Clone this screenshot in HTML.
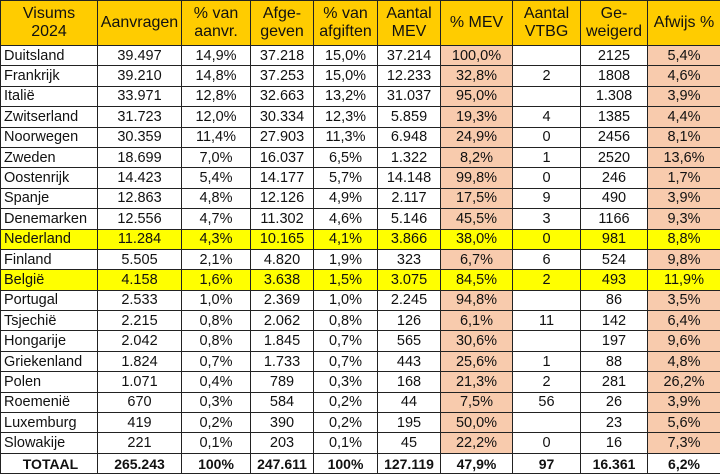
<!DOCTYPE html><html><head><meta charset="utf-8"><style>
body{margin:0;width:720px;height:474px;background:#fff;overflow:hidden}
table{border-collapse:collapse;table-layout:fixed;width:720px;font-family:"Liberation Sans",Arial,sans-serif;font-size:14.5px;color:#111}
td{border:1px solid #222;height:19.4px;padding:0;text-align:center;white-space:nowrap;overflow:hidden;line-height:18px}
td:first-child{text-align:left;padding-left:3px}
tr.h td{background:#FFCC00;height:44px;line-height:18px;font-size:16px;text-align:center;padding:0}
td.p{background:#F8CBAD}
tr.y td{background:#FFFF00}
tr.t td{font-weight:bold;text-align:center;font-size:14px}
</style></head><body><table>
<colgroup><col style="width:97px"><col style="width:84px"><col style="width:69px"><col style="width:63px"><col style="width:64px"><col style="width:63px"><col style="width:72px"><col style="width:68px"><col style="width:67px"><col style="width:73px"></colgroup>
<tr class="h"><td>Visums<br>2024</td><td>Aanvragen</td><td>% van<br>aanvr.</td><td>Afge-<br>geven</td><td>% van<br>afgiften</td><td>Aantal<br>MEV</td><td>% MEV</td><td>Aantal<br>VTBG</td><td>Ge-<br>weigerd</td><td>Afwijs %</td></tr>
<tr><td>Duitsland</td><td>39.497</td><td>14,9%</td><td>37.218</td><td>15,0%</td><td>37.214</td><td class="p">100,0%</td><td></td><td>2125</td><td class="p">5,4%</td></tr>
<tr><td>Frankrijk</td><td>39.210</td><td>14,8%</td><td>37.253</td><td>15,0%</td><td>12.233</td><td class="p">32,8%</td><td>2</td><td>1808</td><td class="p">4,6%</td></tr>
<tr><td>Italië</td><td>33.971</td><td>12,8%</td><td>32.663</td><td>13,2%</td><td>31.037</td><td class="p">95,0%</td><td></td><td>1.308</td><td class="p">3,9%</td></tr>
<tr><td>Zwitserland</td><td>31.723</td><td>12,0%</td><td>30.334</td><td>12,3%</td><td>5.859</td><td class="p">19,3%</td><td>4</td><td>1385</td><td class="p">4,4%</td></tr>
<tr><td>Noorwegen</td><td>30.359</td><td>11,4%</td><td>27.903</td><td>11,3%</td><td>6.948</td><td class="p">24,9%</td><td>0</td><td>2456</td><td class="p">8,1%</td></tr>
<tr><td>Zweden</td><td>18.699</td><td>7,0%</td><td>16.037</td><td>6,5%</td><td>1.322</td><td class="p">8,2%</td><td>1</td><td>2520</td><td class="p">13,6%</td></tr>
<tr><td>Oostenrijk</td><td>14.423</td><td>5,4%</td><td>14.177</td><td>5,7%</td><td>14.148</td><td class="p">99,8%</td><td>0</td><td>246</td><td class="p">1,7%</td></tr>
<tr><td>Spanje</td><td>12.863</td><td>4,8%</td><td>12.126</td><td>4,9%</td><td>2.117</td><td class="p">17,5%</td><td>9</td><td>490</td><td class="p">3,9%</td></tr>
<tr><td>Denemarken</td><td>12.556</td><td>4,7%</td><td>11.302</td><td>4,6%</td><td>5.146</td><td class="p">45,5%</td><td>3</td><td>1166</td><td class="p">9,3%</td></tr>
<tr class="y"><td>Nederland</td><td>11.284</td><td>4,3%</td><td>10.165</td><td>4,1%</td><td>3.866</td><td>38,0%</td><td>0</td><td>981</td><td>8,8%</td></tr>
<tr><td>Finland</td><td>5.505</td><td>2,1%</td><td>4.820</td><td>1,9%</td><td>323</td><td class="p">6,7%</td><td>6</td><td>524</td><td class="p">9,8%</td></tr>
<tr class="y"><td>België</td><td>4.158</td><td>1,6%</td><td>3.638</td><td>1,5%</td><td>3.075</td><td>84,5%</td><td>2</td><td>493</td><td>11,9%</td></tr>
<tr><td>Portugal</td><td>2.533</td><td>1,0%</td><td>2.369</td><td>1,0%</td><td>2.245</td><td class="p">94,8%</td><td></td><td>86</td><td class="p">3,5%</td></tr>
<tr><td>Tsjechië</td><td>2.215</td><td>0,8%</td><td>2.062</td><td>0,8%</td><td>126</td><td class="p">6,1%</td><td>11</td><td>142</td><td class="p">6,4%</td></tr>
<tr><td>Hongarije</td><td>2.042</td><td>0,8%</td><td>1.845</td><td>0,7%</td><td>565</td><td class="p">30,6%</td><td></td><td>197</td><td class="p">9,6%</td></tr>
<tr><td>Griekenland</td><td>1.824</td><td>0,7%</td><td>1.733</td><td>0,7%</td><td>443</td><td class="p">25,6%</td><td>1</td><td>88</td><td class="p">4,8%</td></tr>
<tr><td>Polen</td><td>1.071</td><td>0,4%</td><td>789</td><td>0,3%</td><td>168</td><td class="p">21,3%</td><td>2</td><td>281</td><td class="p">26,2%</td></tr>
<tr><td>Roemenië</td><td>670</td><td>0,3%</td><td>584</td><td>0,2%</td><td>44</td><td class="p">7,5%</td><td>56</td><td>26</td><td class="p">3,9%</td></tr>
<tr><td>Luxemburg</td><td>419</td><td>0,2%</td><td>390</td><td>0,2%</td><td>195</td><td class="p">50,0%</td><td></td><td>23</td><td class="p">5,6%</td></tr>
<tr><td>Slowakije</td><td>221</td><td>0,1%</td><td>203</td><td>0,1%</td><td>45</td><td class="p">22,2%</td><td>0</td><td>16</td><td class="p">7,3%</td></tr>
<tr class="t"><td style="text-align:center">TOTAAL</td><td>265.243</td><td>100%</td><td>247.611</td><td>100%</td><td>127.119</td><td>47,9%</td><td>97</td><td>16.361</td><td>6,2%</td></tr>
</table></body></html>
